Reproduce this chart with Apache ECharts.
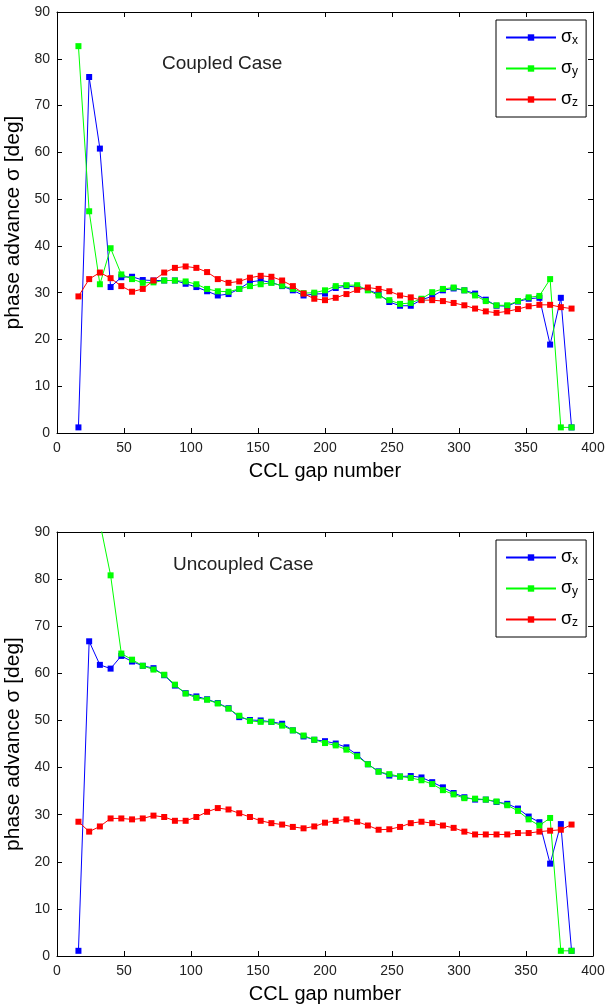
<!DOCTYPE html>
<html>
<head>
<meta charset="utf-8">
<script src="https://cdn.jsdelivr.net/npm/echarts@6/dist/echarts.min.js"></script>
<style>
  html, body { margin: 0; padding: 0; background: #fff; }
  #chart { width: 607px; height: 1005px; }
</style>
</head>
<body>
<div id="chart"></div>
<script>
// CCL gap numbers (every 8th gap)
const gaps = [16, 24, 32, 40, 48, 56, 64, 72, 80, 88, 96, 104, 112, 120, 128, 136, 144, 152, 160, 168,
  176, 184, 192, 200, 208, 216, 224, 232, 240, 248, 256, 264, 272, 280, 288, 296, 304, 312, 320, 328,
  336, 344, 352, 360, 368, 376, 384]

// coupled case
const coupledX = [1.2, 76.1, 60.8, 31.2, 33.3, 33.4, 32.7, 32.6, 32.6, 32.6, 31.9, 31.2, 30.3, 29.4, 29.7,
  30.8, 32.3, 32.6, 32.2, 31.4, 30.5, 29.4, 29.7, 29.8, 31.0, 31.4, 31.2, 30.6, 29.7, 28.0, 27.2, 27.2,
  28.5, 29.2, 30.5, 30.9, 30.5, 29.8, 28.5, 27.2, 27.1, 28.1, 28.7, 28.9, 18.9, 28.9, 1.2]
const coupledY = [82.7, 47.4, 31.8, 39.5, 33.9, 32.9, 32.1, 32.2, 32.6, 32.6, 32.4, 31.8, 30.8, 30.3, 30.2,
  30.8, 31.4, 31.8, 32.1, 31.5, 30.8, 29.9, 30.0, 30.5, 31.4, 31.6, 31.6, 30.5, 29.4, 28.4, 27.6, 27.8,
  28.7, 30.1, 30.8, 31.1, 30.5, 29.4, 28.2, 27.3, 27.3, 28.2, 29.0, 29.3, 32.9, 1.2, 1.2]
const coupledZ = [29.2, 32.9, 34.3, 33.1, 31.4, 30.2, 30.8, 32.6, 34.3, 35.3, 35.6, 35.3, 34.4, 32.9, 32.1,
  32.4, 33.2, 33.6, 33.4, 32.6, 31.4, 29.8, 28.7, 28.4, 28.9, 29.7, 30.6, 31.1, 30.8, 30.3, 29.4, 29.0,
  28.4, 28.4, 28.2, 27.8, 27.3, 26.6, 26.0, 25.7, 26.0, 26.5, 27.1, 27.4, 27.4, 26.9, 26.6]

// uncoupled case (first sigma_y points are above the plotted range)
const uncoupledX = [1.1, 66.8, 61.8, 61.0, 63.7, 62.5, 61.6, 61.1, 59.6, 57.4, 55.8, 55.1, 54.5, 53.7, 52.6,
  50.7, 50.1, 50.0, 49.7, 49.3, 47.9, 46.6, 45.9, 45.6, 45.1, 44.3, 42.7, 40.7, 39.2, 38.3, 38.1, 38.2,
  37.9, 36.9, 35.8, 34.6, 33.7, 33.2, 33.2, 32.7, 32.3, 31.3, 29.6, 28.4, 19.6, 28.0, 1.1]
const uncoupledY = [130, 110, 92, 80.8, 64.2, 62.9, 61.6, 60.8, 59.7, 57.6, 55.7, 54.8, 54.4, 53.6, 52.5,
  51.0, 49.9, 49.7, 49.7, 48.9, 47.9, 46.8, 45.9, 45.2, 44.7, 43.8, 42.4, 40.7, 39.1, 38.6, 38.1, 37.8,
  37.3, 36.5, 35.2, 34.3, 33.5, 33.4, 33.2, 32.8, 32.0, 30.8, 29.0, 27.7, 29.3, 1.1, 1.1]
const uncoupledZ = [28.5, 26.4, 27.5, 29.2, 29.2, 29.0, 29.2, 29.8, 29.5, 28.7, 28.7, 29.5, 30.6, 31.4, 31.1,
  30.3, 29.5, 28.7, 28.2, 27.9, 27.4, 27.1, 27.5, 28.3, 28.7, 29.0, 28.5, 27.7, 26.8, 26.9, 27.4, 28.2,
  28.5, 28.2, 27.7, 27.2, 26.4, 25.8, 25.8, 25.8, 25.8, 26.1, 26.1, 26.4, 26.6, 26.8, 27.9]

const xTicks = { min: 0, max: 400, interval: 50 }
const yTicks = { min: 0, max: 90, interval: 10 }
const seriesNames = ['σx', 'σy', 'σz']
const seriesColors = ['#0000ff', '#00ff00', '#ff0000']
const panelTitles = ['Coupled Case', 'Uncoupled Case']

const font = 'Liberation Sans, Arial, sans-serif'

const chart = echarts.init(document.getElementById('chart'))

const grids = [
  { left: 57, top: 12, width: 536, height: 421, outerBoundsMode: 'none' },
  { left: 57, top: 532, width: 536, height: 424, outerBoundsMode: 'none' }
]

const tickStyle = { inside: true, length: 5, lineStyle: { color: '#000', width: 1 } }
const lineStyle = { lineStyle: { color: '#000', width: 1 } }

const xAxes = []
const yAxes = []
grids.forEach((g, i) => {
  // bottom / left: labelled axes
  xAxes.push({
    type: 'value', gridIndex: i, position: 'bottom', ...xTicks,
    name: 'CCL gap number', nameLocation: 'middle', nameGap: 28,
    nameTextStyle: { fontFamily: font, fontSize: 20, color: '#000' },
    axisLine: { show: true, onZero: false, ...lineStyle },
    axisTick: tickStyle,
    axisLabel: { fontFamily: font, fontSize: 14, color: '#222', margin: 8 },
    splitLine: { show: false }
  })
  yAxes.push({
    type: 'value', gridIndex: i, position: 'left', ...yTicks,
    name: 'phase advance σ [deg]', nameLocation: 'middle', nameGap: 29,
    nameTextStyle: { fontFamily: font, fontSize: 21, color: '#000' },
    axisLine: { show: true, onZero: false, ...lineStyle },
    axisTick: tickStyle,
    axisLabel: { fontFamily: font, fontSize: 14, color: '#222', margin: 7 },
    splitLine: { show: false }
  })
  // top / right: ticks only, to close the box
  xAxes.push({
    type: 'value', gridIndex: i, position: 'top', ...xTicks,
    axisLine: { show: true, onZero: false, ...lineStyle },
    axisTick: tickStyle, axisLabel: { show: false }, splitLine: { show: false }
  })
  yAxes.push({
    type: 'value', gridIndex: i, position: 'right', ...yTicks,
    axisLine: { show: true, onZero: false, ...lineStyle },
    axisTick: tickStyle, axisLabel: { show: false }, splitLine: { show: false }
  })
})

const panels = [
  [coupledX, coupledY, coupledZ],
  [uncoupledX, uncoupledY, uncoupledZ]
]

const series = []
panels.forEach((sets, i) => {
  sets.forEach((vals, k) => {
    series.push({
      name: seriesNames[k],
      type: 'line',
      xAxisIndex: i * 2,
      yAxisIndex: i * 2,
      data: gaps.map((g, j) => [g, vals[j]]),
      symbol: 'rect',
      symbolSize: 6,
      clip: true,
      animation: false,
      color: seriesColors[k],
      lineStyle: { width: 1, color: seriesColors[k] },
      itemStyle: { color: seriesColors[k] }
    })
  })
})

const legendText = {
  rich: {
    s: { fontFamily: font, fontSize: 18, color: '#000', lineHeight: 18 },
    sub: { fontFamily: font, fontSize: 12, color: '#000', lineHeight: 12, padding: [7, 0, 0, 0] }
  }
}
const legends = grids.map((g, i) => ({
  left: 496,
  top: g.top + 8,
  orient: 'vertical',
  data: seriesNames,
  itemWidth: 50,
  itemHeight: 8,
  itemGap: 12,
  padding: [8, 8, 8, 9],
  borderColor: '#000',
  borderWidth: 1,
  selectedMode: false,
  formatter: name => '{s|σ}{sub|' + name.slice(1) + '}',
  textStyle: legendText
}))

chart.setOption({
  backgroundColor: '#fff',
  animation: false,
  title: panelTitles.map((t, i) => ({
    text: t,
    left: i === 0 ? 162 : 173,
    top: i === 0 ? 54 : 555,
    padding: 0,
    textStyle: { fontFamily: font, fontSize: 19, fontWeight: 'normal', color: '#222' }
  })),
  legend: legends,
  grid: grids,
  xAxis: xAxes,
  yAxis: yAxes,
  series
})
</script>
</body>
</html>
